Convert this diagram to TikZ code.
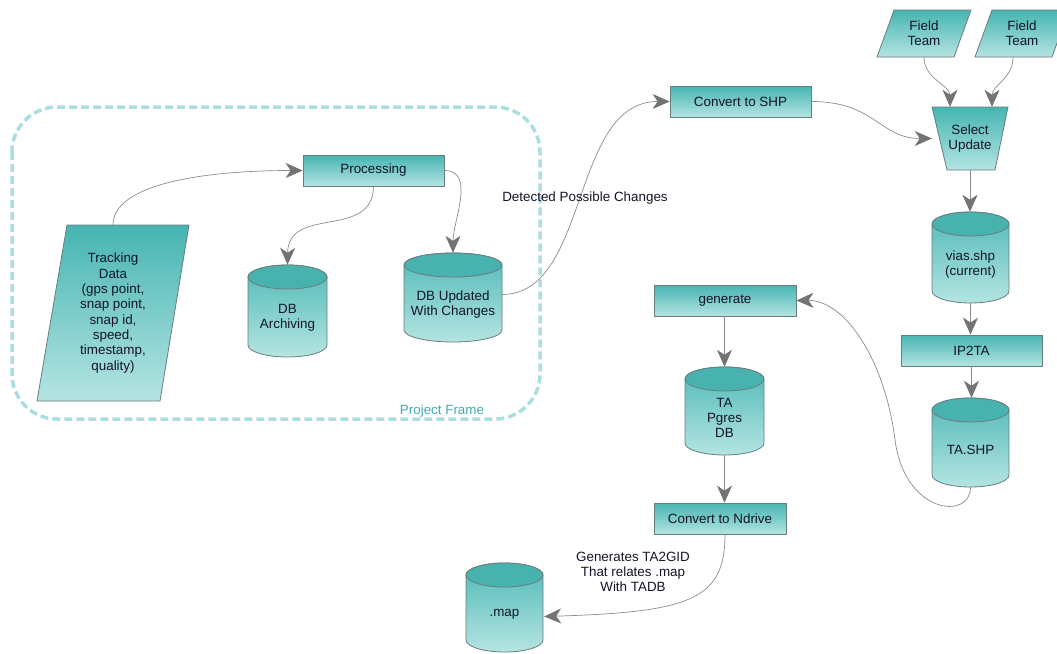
\documentclass[tikz,border=0pt]{standalone}
\usepackage{fontspec}
\setmainfont{Liberation Sans}
\usetikzlibrary{arrows.meta,calc}

\definecolor{tealtop}{RGB}{70,181,178}
\definecolor{tealbot}{RGB}{180,228,226}
\definecolor{tealcap}{RGB}{72,178,175}
\definecolor{edge}{RGB}{105,125,125}
\definecolor{wire}{RGB}{140,140,140}
\definecolor{tipc}{RGB}{115,115,115}
\definecolor{framec}{RGB}{170,222,224}
\definecolor{framet}{RGB}{70,168,180}
\definecolor{ink}{RGB}{20,20,40}

\tikzset{
  every node/.style={font=\fontsize{13.4}{15.3}\selectfont, text=ink},
  procbox/.style={draw=edge, line width=0.8pt, top color=tealtop, bottom color=tealbot,
    minimum height=31, inner sep=0pt},
  shapefill/.style={draw=edge, line width=0.8pt, top color=tealtop, bottom color=tealbot},
  cylbody/.style={draw=edge, line width=0.8pt, top color=tealtop!90!tealbot, bottom color=tealbot},
  cylcap/.style={draw=edge, line width=0.8pt, fill=tealcap},
  anchorbox/.style={inner sep=0pt, draw=none},
  conn/.style={draw=wire, line width=0.7pt,
    -{Stealth[length=17pt,width=15pt,inset=5pt,color=tipc]}},
  projframe/.style={draw=framec, line width=3.5pt, dash pattern=on 8pt off 4pt,
    rounded corners=45},
}

% database cylinder: name, left x, right x, top y, bottom y, text
\newcommand\dbcyl[6]{%
  \path[cylbody] (#2,#4+12) -- (#2,#5-12)
    arc[start angle=180,end angle=0,x radius={(#3-#2)/2},y radius=12]
    -- (#3,#4+12)
    arc[start angle=0,end angle=-180,x radius={(#3-#2)/2},y radius=12] -- cycle;
  \path[cylcap] ({(#2+#3)/2},#4+12) ellipse[x radius={(#3-#2)/2},y radius=12];
  \node[anchorbox, minimum width={#3-#2}, minimum height={#5-#4}]
    (#1) at ({(#2+#3)/2},{(#4+#5)/2}) {};
  \node[align=center] (#1-t) at ({(#2+#3)/2},{(#4+#5)/2+7}) {#6};
}

\begin{document}
\begin{tikzpicture}[x=1pt,y=-1pt]
\useasboundingbox (0,0) rectangle (1057,653);

% project frame
\draw[projframe] (12,107) rectangle (540,419);
\node[text=framet] (pf) at (442,411) {Project Frame};

% tracking data input
\path[shapefill] (67,225) -- (189,225) -- (160,401) -- (37,401) -- cycle;
\node[anchorbox, minimum width=122, minimum height=176, align=center] (td) at (113,313)
  {Tracking\\Data\\(gps point,\\snap point,\\snap id,\\speed,\\timestamp,\\quality)};

% processing steps
\node[procbox, minimum width=141] (proc) at (373.5,170.5) {Processing};
\node[procbox, minimum width=141] (shp) at (740.5,101.5) {Convert to SHP};
\node[procbox, minimum width=142] (gen) at (725,300.5) {generate};
\node[procbox, minimum width=141] (ip) at (971.5,350.5) {IP2TA};
\node[procbox, minimum width=132] (nd) at (720,518.5) {Convert to Ndrive};

% field teams
\path[shapefill] (894,10) -- (971,10) -- (954,57) -- (877,57) -- cycle;
\node[anchorbox, minimum width=77, minimum height=47, align=center] (ft1) at (924,33.5) {Field\\Team};
\path[shapefill] (992,10) -- (1069,10) -- (1052,57) -- (975,57) -- cycle;
\node[anchorbox, minimum width=77, minimum height=47, align=center] (ft2) at (1022,33.5) {Field\\Team};

% select update trapezium
\path[shapefill] (932,107) -- (1008,107) -- (995,170) -- (947,170) -- cycle;
\node[anchorbox, minimum width=76, minimum height=63, align=center] (su) at (970,138.5) {Select\\Update};

% databases
\dbcyl{arch}{248}{327}{265}{357}{DB\\Archiving}
\dbcyl{upd}{404}{502}{253}{342}{DB Updated\\With Changes}
\dbcyl{vias}{932}{1009}{212}{303}{vias.shp\\(current)}
\dbcyl{tashp}{932}{1009}{398}{487}{TA.SHP}
\dbcyl{tap}{685}{764}{367}{455}{TA\\Pgres\\DB}
\dbcyl{map}{466}{543}{563}{652}{.map}

% connectors
\draw[conn] (td.north) .. controls (113,185) and (200,170.5) .. (proc.west);
\draw[conn] (proc.south) .. controls (373,240) and (288,205) .. (arch.north);
\draw[conn] (proc.east) .. controls (476,170.5) and (453,221) .. (upd.north);
\draw[conn] ($(upd.east)+(0,-3)$) .. controls (590,294) and (570,101.5) .. (shp.west);
\node (dpc) at (585,198) {Detected Possible Changes};
\draw[conn] (shp.east) .. controls (875,101.5) and (880,138.5) .. (su.west);
\draw[conn] (ft1.south) to[out=-90,in=90] ($(su.north)+(-20,0)$);
\draw[conn] ($(ft2.south)+(-9,0)$) to[out=-90,in=90] ($(su.north)+(22,0)$);
\draw[conn] (su.south) -- (su.south |- vias.north);
\draw[conn] (vias.south) -- (vias.south |- ip.north);
\draw[conn] (ip.south) -- (ip.south |- tashp.north);
\draw[conn] (tashp.south) .. controls (971,520) and (905,515) .. (895,440)
  .. controls (885,360) and (845,300) .. (gen.east);
\draw[conn] (tap.north |- gen.south) -- (tap.north);
\draw[conn] (tap.south) -- (tap.south |- nd.north);
\draw[conn] ($(nd.south)+(5,0)$) .. controls (725,600) and (690,612) .. ($(map.east)+(1,9)$);
\node[align=center] (gl) at (633,572) {Generates TA2GID\\That relates .map\\With TADB};

\end{tikzpicture}
\end{document}
